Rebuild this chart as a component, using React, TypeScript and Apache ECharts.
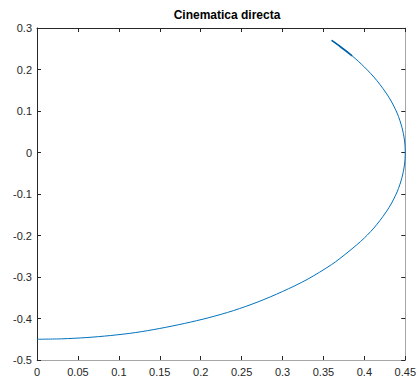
import React, { useEffect, useRef } from "react";
import * as echarts from "echarts";

const titleText = "Cinematica directa";

// points read along the trajectory (x, y)
const trajX = [0, 0.03, 0.06, 0.09, 0.12, 0.15, 0.18, 0.21, 0.24, 0.27, 0.3, 0.33, 0.36, 0.38, 0.4, 0.415, 0.43, 0.44, 0.446, 0.449, 0.45, 0.449, 0.446, 0.44, 0.43, 0.415, 0.4, 0.385, 0.37, 0.36];
const trajY = [-0.45, -0.449, -0.446, -0.441, -0.434, -0.424, -0.412, -0.398, -0.381, -0.36, -0.335, -0.306, -0.27, -0.24, -0.206, -0.174, -0.133, -0.095, -0.06, -0.03, 0, 0.03, 0.06, 0.095, 0.133, 0.174, 0.206, 0.233, 0.256, 0.27];

// retraced (darker) segment near the end
const retraceX = [0.385, 0.37, 0.36];
const retraceY = [0.233, 0.256, 0.27];

const xMin = 0, xMax = 0.45, xStep = 0.05;
const yMin = -0.5, yMax = 0.3, yStep = 0.1;

const fmt = (v: number) => String(parseFloat(v.toFixed(2)));

export default function App() {
  const ref = useRef<HTMLDivElement>(null);
  useEffect(() => {
    document.body.style.margin = "0";
    const chart = echarts.init(ref.current!, null, { renderer: "svg" });
    const dark = "#262626";
    const light = "#a6a6a6";
    const font = "'Liberation Sans', Arial, Helvetica, sans-serif";
    const baseX = {
      type: "value" as const,
      min: xMin,
      max: xMax,
      interval: xStep,
      splitLine: { show: false },
      axisTick: { inside: true, length: 4, lineStyle: { color: dark } },
    };
    const baseY = {
      type: "value" as const,
      min: yMin,
      max: yMax,
      interval: yStep,
      splitLine: { show: false },
      axisTick: { inside: true, length: 4, lineStyle: { color: dark } },
    };
    chart.setOption({
      animation: false,
      backgroundColor: "#ffffff",
      title: {
        text: titleText,
        left: 222,
        top: 4,
        textAlign: "center",
        textStyle: { fontFamily: font, fontSize: 12, fontWeight: "bold", color: "#000" },
      },
      grid: { left: 37, right: 11, top: 28, bottom: 21, containLabel: false },
      xAxis: [
        {
          ...baseX,
          position: "bottom",
          axisLine: { show: true, onZero: false, lineStyle: { color: light } },
          axisLabel: { show: true, formatter: fmt, color: dark, fontFamily: font, fontSize: 11, margin: 6 },
        },
        {
          ...baseX,
          position: "top",
          axisLine: { show: true, onZero: false, lineStyle: { color: dark } },
          axisLabel: { show: false },
        },
      ],
      yAxis: [
        {
          ...baseY,
          position: "left",
          axisLine: { show: true, onZero: false, lineStyle: { color: dark } },
          axisLabel: { show: true, formatter: fmt, color: dark, fontFamily: font, fontSize: 11, margin: 5 },
        },
        {
          ...baseY,
          position: "right",
          axisLine: { show: true, onZero: false, lineStyle: { color: light } },
          axisLabel: { show: false },
        },
      ],
      series: [
        {
          type: "line",
          xAxisIndex: 0,
          yAxisIndex: 0,
          data: trajX.map((x, i) => [x, trajY[i]]),
          smooth: 0.3,
          showSymbol: false,
          lineStyle: { color: "#0072BD", width: 1 },
        },
        {
          type: "line",
          xAxisIndex: 0,
          yAxisIndex: 0,
          data: retraceX.map((x, i) => [x, retraceY[i]]),
          smooth: 0.3,
          showSymbol: false,
          lineStyle: { color: "#0060a8", width: 1.6 },
        },
      ],
    });
    return () => chart.dispose();
  }, []);
  return <div ref={ref} style={{ width: 419, height: 381 }} />;
}
